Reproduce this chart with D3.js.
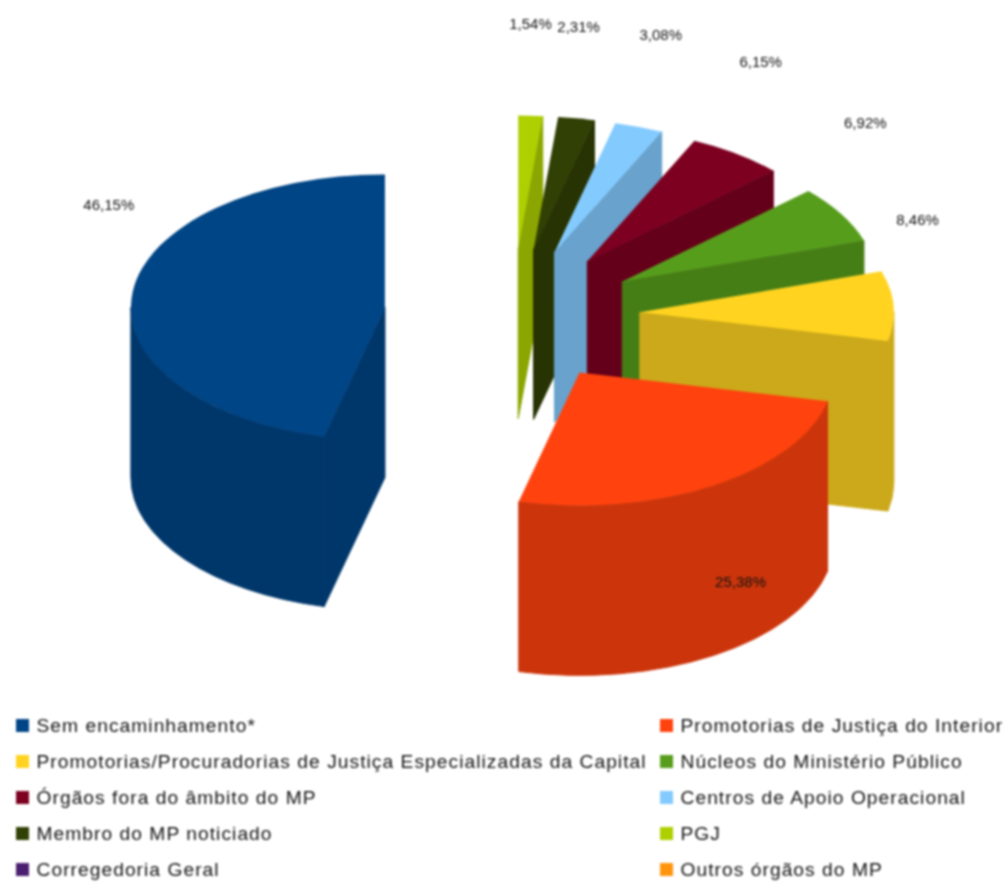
<!DOCTYPE html>
<html><head><meta charset="utf-8">
<script src="https://cdn.jsdelivr.net/npm/d3@7"></script>
<style>
html,body{margin:0;padding:0;background:#fff}
svg{display:block;filter:blur(0.8px)}
text{font-family:"Liberation Sans",Arial,sans-serif}
</style></head><body><div id="chart"></div>
<script>
const categories = ["Sem encaminhamento*","Promotorias de Justiça do Interior","Promotorias/Procuradorias de Justiça Especializadas da Capital","Núcleos do Ministério Público","Órgãos fora do âmbito do MP","Centros de Apoio Operacional","Membro do MP noticiado","PGJ","Corregedoria Geral","Outros órgãos do MP"];
const values = [46.15,25.38,8.46,6.92,6.15,3.08,2.31,1.54,0,0];
const colors = ["#004586","#ff420e","#ffd320","#579d1c","#7e0021","#83caff","#314004","#aecf00","#4b1f6f","#ff950e"];

const W=1007,H=882, cx=512, cy=315.5, rx=254, ry=133, depth=170, explode=128, k=ry/rx;
const svg=d3.select("#chart").append("svg").attr("width",W).attr("height",H);

const pie=d3.pie().sort(null).startAngle(0).endAngle(2*Math.PI);
const arcs=pie(values).map((a,i)=>{
  const mid=(a.startAngle+a.endAngle)/2;
  return {i,a0:a.startAngle,a1:a.endAngle,mid,v:values[i],
    ax:cx-explode*Math.sin(mid), ay:cy-explode*k*Math.cos(mid)};
});
const pt=(d,t)=>[d.ax-rx*Math.sin(t), d.ay-ry*Math.cos(t)];
const shade=c=>{const r=d3.rgb(c);return d3.rgb(r.r*.8,r.g*.8,r.b*.8).formatHex();};
const arcGen=d3.arc().innerRadius(0).outerRadius(rx);

const g=svg.append("g");
const slices=arcs.filter(d=>d.v>0).slice().reverse();
slices.forEach(d=>{
  const c=colors[d.i], side=shade(c);
  const wall=t=>{const p=pt(d,t);
    g.append("path").attr("fill",side).attr("stroke",side).attr("stroke-width",1)
     .attr("d",`M${d.ax},${d.ay}L${p[0]},${p[1]}L${p[0]},${p[1]+depth}L${d.ax},${d.ay+depth}Z`);};
  if(Math.sin(d.a0)<-1e-6) wall(d.a0);
  if(Math.sin(d.a1)>1e-6) wall(d.a1);
  const s0=Math.max(d.a0,Math.PI/2), s1=Math.min(d.a1,3*Math.PI/2);
  if(s1>s0){
    const p0=pt(d,s0),p1=pt(d,s1);
    g.append("path").attr("fill",side).attr("stroke",side).attr("stroke-width",1)
     .attr("d",`M${p0[0]},${p0[1]}A${rx},${ry} 0 0 0 ${p1[0]},${p1[1]}L${p1[0]},${p1[1]+depth}A${rx},${ry} 0 0 1 ${p0[0]},${p0[1]+depth}Z`);
  }
  g.append("path").attr("fill",c)
   .attr("transform",`translate(${d.ax},${d.ay}) scale(1,${k})`)
   .attr("d",arcGen({startAngle:-d.a0,endAngle:-d.a1}));
});

// percentage labels, pushed out from each slice rim
const fmt=v=>v.toFixed(2).replace(".",",")+"%";
svg.append("g").selectAll("text").data(arcs.filter(d=>d.v>0)).join("text")
  .attr("font-size",15).attr("fill","#111").attr("text-anchor","middle").attr("dominant-baseline","middle")
  .attr("x",d=>{const p=pt(d,d.mid),dx=-Math.sin(d.mid);
     return p[0]+Math.sign(dx)*24*Math.min(1,Math.max(0,Math.abs(dx)-.15)*5)+(d.mid>Math.PI&&d.mid<1.5*Math.PI?3:0);})
  .attr("y",d=>{const p=pt(d,d.mid),dx=Math.abs(Math.sin(d.mid));
     return p[1]+1.5+(Math.cos(d.mid)>0?-92+Math.max(0,dx-.9)*60:96);})
  .text(d=>fmt(d.v));

// legend
const row=d3.scalePoint().domain(d3.range(5)).range([725.5,869.5]);
const colX=[16,660];
const leg=svg.append("g").selectAll("g").data(categories).join("g")
  .attr("transform",(d,i)=>`translate(${colX[i%2]},${row(Math.floor(i/2))})`);
leg.append("rect").attr("x",0).attr("y",-6.5).attr("width",13).attr("height",13).attr("fill",(d,i)=>colors[i]);
leg.append("text").attr("x",20.5).attr("dy","0.36em").attr("font-size",19.2).attr("letter-spacing",1.05).attr("fill","#111").text(d=>d);
</script></body></html>
